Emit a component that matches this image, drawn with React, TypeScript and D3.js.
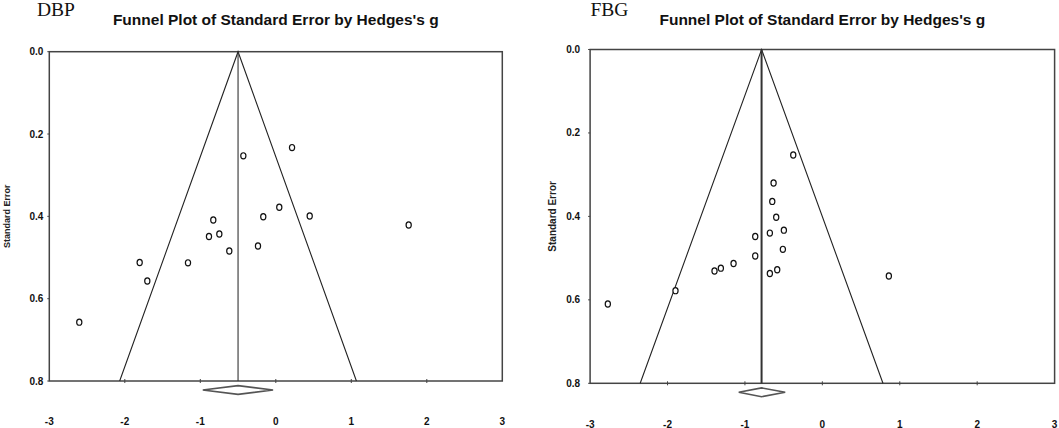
import React from "react";
import * as d3 from "d3";

// ---- Data ----
const xTicks = [-3, -2, -1, 0, 1, 2, 3];
const yTicks = [0.0, 0.2, 0.4, 0.6, 0.8];

const dbpG = [-0.43, 0.215, -0.828, 0.046, -0.166, 0.449, 1.76, -0.885, -0.748, -0.616, -0.236, -1.803, -1.163, -1.702, -2.603];
const dbpSE = [0.253, 0.233, 0.409, 0.378, 0.401, 0.399, 0.421, 0.449, 0.443, 0.484, 0.472, 0.512, 0.513, 0.557, 0.657];
const dbpSummary = [-0.5, -0.967, -0.036]; // estimate, lower, upper

const fbgG = [-0.376, -0.63, -0.647, -0.596, -0.497, -0.678, -0.867, -0.51, -0.867, -1.147, -1.311, -1.393, -0.583, -0.678, 0.859, -1.897, -2.771];
const fbgSE = [0.253, 0.32, 0.364, 0.402, 0.433, 0.44, 0.448, 0.479, 0.495, 0.513, 0.524, 0.531, 0.528, 0.537, 0.543, 0.578, 0.61];
const fbgSummary = [-0.785, -1.08, -0.48];

const titleText = "Funnel Plot of Standard Error by Hedges's g";
const yLabelText = "Standard Error";

type PanelProps = {
  tag: string;
  g: number[];
  se: number[];
  summary: number[];
  x0: number; x1: number; y0: number; y1: number;
  yLabelGap: number; yTitleX: number; yTitleSize: number;
  xLabelY: number; tagX: number; centerStroke: number;
};

function Panel(p: PanelProps) {
  const x = d3.scaleLinear().domain([-3, 3]).range([p.x0, p.x1]);
  const y = d3.scaleLinear().domain([0, 0.8]).range([p.y0, p.y1]);
  const [est, lo, hi] = p.summary;
  const z = 1.96;
  const funnel = d3.line<[number, number]>()
    .x((d) => x(d[0]))
    .y((d) => y(d[1]))([
      [est - z * 0.8, 0.8],
      [est, 0],
      [est + z * 0.8, 0.8],
    ]);
  const dy = y(0.8) + 9;
  const dh = 4.4;
  const diamond = `M${x(lo)},${dy} L${x(est)},${dy - dh} L${x(hi)},${dy} L${x(est)},${dy + dh} Z`;
  const cx = (p.x0 + p.x1) / 2;
  const sans = "'Liberation Sans', Arial, sans-serif";
  return (
    <g>
      <text x={p.tagX} y={15.5} fontFamily="'Liberation Serif', 'Times New Roman', serif" fontSize={19.5} fill="#111">{p.tag}</text>
      <text x={cx} y={24.5} textAnchor="middle" fontFamily={sans} fontWeight="bold" fontSize={15.5} fill="#111">{titleText}</text>
      <rect x={p.x0} y={p.y0} width={p.x1 - p.x0} height={p.y1 - p.y0} fill="white" stroke="#444" strokeWidth={1.5} />
      {yTicks.map((t) => (
        <g key={"y" + t}>
          <line x1={p.x0 - 2} x2={p.x0} y1={y(t)} y2={y(t)} stroke="#444" strokeWidth={1} />
          <text x={p.x0 - p.yLabelGap} y={y(t) + 3.5} textAnchor="end" fontFamily={sans} fontWeight="bold" fontSize={10} fill="#111">{t.toFixed(1)}</text>
        </g>
      ))}
      {xTicks.slice(1, -1).map((t) => (
        <line key={"xt" + t} x1={x(t)} x2={x(t)} y1={p.y1 - 2} y2={p.y1 + 2} stroke="#444" strokeWidth={1} />
      ))}
      {xTicks.map((t) => (
        <text key={"xl" + t} x={x(t)} y={p.xLabelY + 3.5} textAnchor="middle" fontFamily={sans} fontWeight="bold" fontSize={10} fill="#111">{String(t)}</text>
      ))}
      <text transform={`translate(${p.yTitleX},${(p.y0 + p.y1) / 2}) rotate(-90)`} y={3.5} textAnchor="middle" fontFamily={sans} fontWeight="bold" fontSize={p.yTitleSize} fill="#222">{yLabelText}</text>
      <path d={funnel || ""} fill="none" stroke="#222" strokeWidth={1.1} />
      <line x1={x(est)} x2={x(est)} y1={y(0)} y2={y(0.8)} stroke="#333" strokeWidth={p.centerStroke} />
      <path d={diamond} fill="white" stroke="#555" strokeWidth={1.6} />
      {p.g.map((v, i) => (
        <ellipse key={"pt" + i} cx={x(v)} cy={y(p.se[i])} rx={2.6} ry={3.1} fill="white" stroke="#111" strokeWidth={1.2} />
      ))}
    </g>
  );
}

export default function App() {
  return (
    <svg width={1059} height={428} style={{ position: "absolute", left: 0, top: 0, background: "white" }}>
      <rect width={1059} height={428} fill="white" />
      <Panel tag="DBP" g={dbpG} se={dbpSE} summary={dbpSummary}
        x0={49.3} x1={502.3} y0={51.7} y1={381}
        yLabelGap={6} yTitleX={6} yTitleSize={9} xLabelY={421.8} tagX={37} centerStroke={1.1} />
      <Panel tag="FBG" g={fbgG} se={fbgSE} summary={fbgSummary}
        x0={590.1} x1={1054.6} y0={49.5} y1={383.3}
        yLabelGap={10} yTitleX={552} yTitleSize={10} xLabelY={424} tagX={590.5} centerStroke={2} />
    </svg>
  );
}
